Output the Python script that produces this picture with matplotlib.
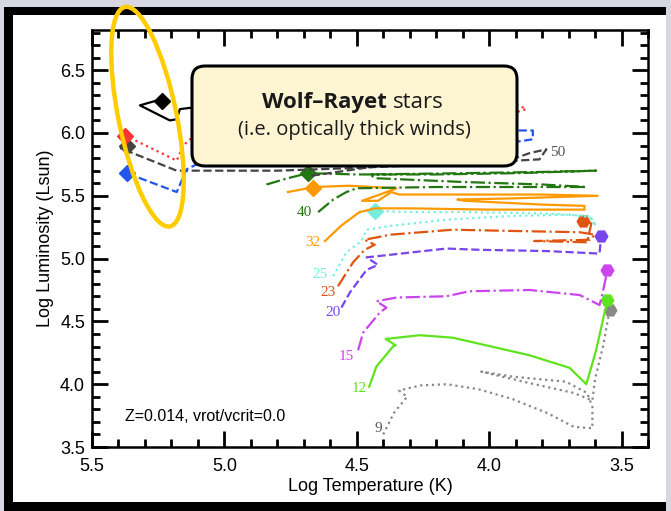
import matplotlib
matplotlib.use("Agg")
import matplotlib.pyplot as plt
from matplotlib.patches import Rectangle, Ellipse, FancyBboxPatch

# --- Geneva tracks, Z=0.014, no rotation ---
T9 = [4.40, 4.36, 4.31, 4.34, 4.26, 4.16, 4.04, 3.91, 3.78, 3.68, 3.61, 3.61, 3.63, 3.71, 3.91, 4.03, 3.85, 3.68, 3.61, 3.60, 3.57, 3.545]
L9 = [3.60, 3.77, 3.90, 3.95, 3.99, 4.00, 3.96, 3.88, 3.77, 3.66, 3.65, 3.82, 3.93, 4.02, 4.06, 4.10, 4.01, 3.93, 3.87, 4.04, 4.30, 4.59]

T12 = [4.453, 4.426, 4.363, 4.353, 4.391, 4.262, 4.137, 3.847, 3.696, 3.633, 3.596, 3.564, 3.551]
L12 = [3.98, 4.14, 4.30, 4.31, 4.36, 4.39, 4.37, 4.23, 4.13, 4.00, 4.27, 4.57, 4.67]

T15 = [4.495, 4.476, 4.413, 4.388, 4.426, 4.350, 4.162, 4.074, 3.847, 3.658, 3.583, 3.571, 3.553]
L15 = [4.27, 4.41, 4.57, 4.61, 4.66, 4.69, 4.70, 4.74, 4.75, 4.71, 4.63, 4.73, 4.91]

T20 = [4.558, 4.526, 4.463, 4.420, 4.463, 4.375, 4.162, 4.036, 3.784, 3.583, 3.577]
L20 = [4.61, 4.73, 4.91, 4.95, 5.01, 5.03, 5.08, 5.07, 5.06, 5.04, 5.18]

T23 = [4.571, 4.514, 4.470, 4.432, 4.470, 4.375, 4.137, 3.910, 3.658, 3.60, 3.62, 3.83, 3.63, 3.614, 3.646]
L23 = [4.78, 4.97, 5.07, 5.11, 5.15, 5.19, 5.23, 5.22, 5.21, 5.19, 5.15, 5.14, 5.13, 5.28, 5.30]

T25 = [4.589, 4.539, 4.482, 4.463, 4.375, 4.162, 3.910, 3.70, 3.62, 3.596, 3.62, 3.80, 4.10, 4.30, 4.432]
L25 = [4.86, 5.05, 5.14, 5.23, 5.26, 5.31, 5.34, 5.35, 5.33, 5.26, 5.34, 5.36, 5.37, 5.37, 5.38]

T32 = [4.62, 4.56, 4.49, 4.43, 4.30, 4.00, 3.80, 3.64, 3.64, 3.80, 4.09, 4.12, 3.90, 3.59, 3.80, 4.10, 4.34, 4.37, 4.42, 4.48, 4.40, 4.35, 4.53, 4.66, 4.76]
L32 = [5.14, 5.26, 5.37, 5.40, 5.40, 5.39, 5.39, 5.39, 5.42, 5.43, 5.46, 5.47, 5.48, 5.50, 5.51, 5.51, 5.51, 5.53, 5.46, 5.46, 5.52, 5.56, 5.58, 5.57, 5.53]

T40 = [4.646, 4.589, 4.539, 4.50, 4.20, 3.90, 3.633, 3.80, 4.10, 4.43, 4.45, 4.10, 3.80, 3.596, 3.90, 4.20, 4.50, 4.684, 4.76, 4.841]
L40 = [5.37, 5.47, 5.53, 5.56, 5.57, 5.57, 5.57, 5.59, 5.61, 5.64, 5.67, 5.68, 5.69, 5.70, 5.68, 5.67, 5.67, 5.68, 5.64, 5.59]

T50 = [4.67, 4.41, 4.10, 3.90, 3.847, 3.784, 3.81, 3.90, 4.20, 4.526, 4.80, 4.992, 5.180, 5.394]
L50 = [5.66, 5.74, 5.77, 5.80, 5.84, 5.87, 5.79, 5.78, 5.75, 5.72, 5.70, 5.70, 5.70, 5.88]

T60 = [4.62, 4.30, 4.00, 3.897, 3.835, 3.835, 3.897, 4.20, 4.60, 5.105, 5.143, 5.180, 5.369]
L60 = [5.78, 5.85, 5.90, 5.93, 5.95, 6.02, 6.02, 6.00, 5.90, 5.75, 5.71, 5.53, 5.68]

T85 = [4.60, 4.20, 3.897, 3.86, 3.89, 4.20, 4.80, 5.13, 5.155, 5.18, 5.375]
L85 = [6.00, 6.15, 6.23, 6.19, 6.17, 6.10, 6.00, 5.95, 5.90, 5.78, 5.98]

T120 = [4.90, 5.10, 5.13, 5.168, 5.18, 5.206, 5.319, 5.237]
L120 = [6.25, 6.20, 6.20, 6.19, 6.11, 6.10, 6.22, 6.27]

# end-of-track symbols
end_T = [3.542, 3.553, 3.553, 3.577, 3.646, 4.432, 4.665, 4.684, 5.369, 5.369, 5.375, 5.237]
end_L = [4.593, 4.673, 4.907, 5.178, 5.296, 5.378, 5.565, 5.684, 5.897, 5.684, 5.977, 6.256]

masses = ["9", "12", "15", "20", "23", "25", "32", "40", "50", "60", "85", "120"]
colors = ["#888888", "#5ee31e", "#cc44ee", "#7744ee", "#dd5511", "#77eedd",
          "#ff9900", "#227711", "#444444", "#2255ee", "#ff3333", "#000000"]
styles = [":", "-", "-.", "--", "-.", ":", "-", "-.", "--", "--", ":", "-"]
end_marks = ["H", "H", "H", "H", "H", "D", "D", "D", "D", "D", "D", "D"]

# mass labels next to the ZAMS end
lab_T = [4.420, 4.489, 4.539, 4.589, 4.608, 4.640, 4.665, 4.696, 3.740]
lab_L = [3.649, 3.968, 4.221, 4.567, 4.731, 4.873, 5.126, 5.365, 5.844]

x_major = [5.5, 5.0, 4.5, 4.0, 3.5]
y_major = [3.5, 4.0, 4.5, 5.0, 5.5, 6.0, 6.5]
x_minor = [5.4, 5.3, 5.2, 5.1, 4.9, 4.8, 4.7, 4.6, 4.4, 4.3, 4.2, 4.1, 3.9, 3.8, 3.7, 3.6, 3.4]
y_minor = [3.6, 3.7, 3.8, 3.9, 4.1, 4.2, 4.3, 4.4, 4.6, 4.7, 4.8, 4.9,
           5.1, 5.2, 5.3, 5.4, 5.6, 5.7, 5.8, 5.9, 6.1, 6.2, 6.3, 6.4, 6.6, 6.7, 6.8]

tracks = [(T9, L9), (T12, L12), (T15, L15), (T20, L20), (T23, L23), (T25, L25),
          (T32, L32), (T40, L40), (T50, L50), (T60, L60), (T85, L85), (T120, L120)]

W, H = 671, 511
fig = plt.figure(figsize=(W / 100, H / 100), dpi=100)
fig.patch.set_facecolor("#d6d7e0")

# slide frame
fig.add_artist(Rectangle((4 / W, 0), 662 / W, 504 / H, transform=fig.transFigure,
                         facecolor="black", edgecolor="none", zorder=-10))
fig.add_artist(Rectangle((13 / W, 9 / H), 653 / W, 487 / H, transform=fig.transFigure,
                         facecolor="white", edgecolor="none", zorder=-9))

ax = fig.add_axes([92 / W, 64 / H, 556 / W, 417 / H])

for i, (t, l) in enumerate(tracks):
    ax.plot(t, l, color=colors[i], ls=styles[i], lw=1.6)
    ax.plot(end_T[i], end_L[i], marker=end_marks[i], color=colors[i],
            ms=8 if end_marks[i] == "D" else 9, mec=colors[i])

for i in range(len(lab_T)):
    c = "#555555" if masses[i] in ("9", "50") else colors[i]
    ax.text(lab_T[i], lab_L[i], masses[i], color=c, fontsize=11,
            family="Liberation Serif", ha="center", va="center")

ax.text(5.375, 3.742, "Z=0.014, vrot/vcrit=0.0", fontsize=11.5,
        family="Liberation Sans", ha="left", va="center")

ax.set_xlim(5.5, 3.4)
ax.set_ylim(3.5, 6.82)
ax.set_xticks(x_major)
ax.set_xticks(x_minor, minor=True)
ax.set_yticks(y_major)
ax.set_yticks(y_minor, minor=True)
ax.tick_params(axis="both", which="both", direction="in", bottom=True, top=True,
               left=True, right=True, width=2, colors="black")
ax.tick_params(axis="both", which="major", length=11.5, labelsize=13)
ax.tick_params(axis="both", which="minor", length=5.8)
ax.tick_params(axis="x", pad=8)
ax.tick_params(axis="y", pad=5)
for lab in ax.get_xticklabels() + ax.get_yticklabels():
    lab.set_family("Liberation Sans")
for s in ax.spines.values():
    s.set_linewidth(1.8)

ax.set_xlabel("Log Temperature (K)", fontsize=13, family="Liberation Sans", labelpad=2)
ax.set_ylabel("Log Luminosity (Lsun)", fontsize=13, family="Liberation Sans", labelpad=4)

# annotation: yellow ellipse + callout box
fig.add_artist(Ellipse((1.475, 3.943), width=0.58, height=2.24, angle=11.6,
                       transform=fig.dpi_scale_trans, fill=False,
                       edgecolor="#ffcc00", lw=3.2, zorder=20))
fig.add_artist(FancyBboxPatch((1.92, 3.45), 3.25, 1.0,
                              boxstyle="round,pad=0,rounding_size=0.13",
                              transform=fig.dpi_scale_trans, facecolor="#fdf5d2",
                              edgecolor="black", lw=2.2, zorder=21))
fig.text(3.87, 4.09, "Wolf\u2013Rayet", transform=fig.dpi_scale_trans, fontsize=16,
         family="Open Sans", weight="bold", ha="right", va="center", color="#1a1a1a", zorder=22)
fig.text(3.93, 4.09, "stars", transform=fig.dpi_scale_trans, fontsize=16,
         family="Open Sans", ha="left", va="center", color="#1a1a1a", zorder=22)
fig.text(3.545, 3.81, "(i.e. optically thick winds)", transform=fig.dpi_scale_trans,
         fontsize=14.5, family="Open Sans", ha="center", va="center", color="#1a1a1a", zorder=22)

fig.savefig("out.png", dpi=100)
